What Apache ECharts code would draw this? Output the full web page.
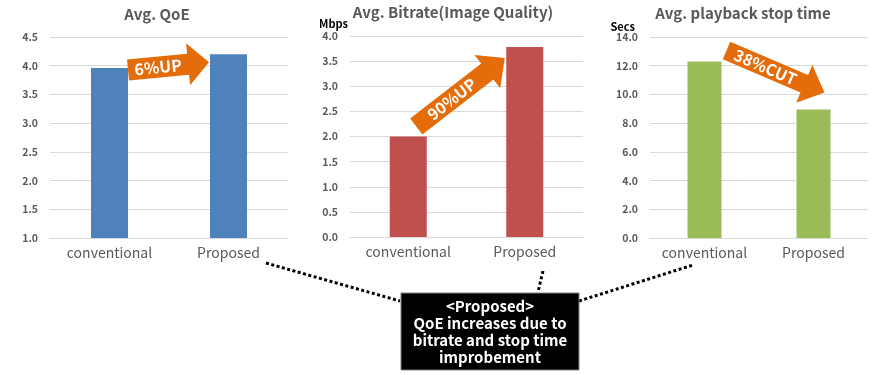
<!DOCTYPE html>
<html><head><meta charset="utf-8">
<script src="https://cdn.jsdelivr.net/npm/echarts@6/dist/echarts.min.js"></script>
<style>html,body{margin:0;padding:0;background:#fff}#c{width:890px;height:375px}</style>
</head><body><div id="c"></div>
<script>
const categories = ['conventional', 'Proposed'];
const qoeValues = [3.96, 4.2];
const bitrateValues = [2.0, 3.78];
const stopTimeValues = [12.3, 8.95];
const titles = ['Avg. QoE', 'Avg. Bitrate(Image Quality)', 'Avg. playback stop time'];
const unitNames = ['', 'Mbps', 'Secs'];
const arrowLabels = ['6%UP', '90%UP', '38%CUT'];
const boxLines = ['<Proposed>', 'QoE increases due to', 'bitrate and stop time', 'improbement'];

const FONT = '"Noto Sans CJK JP","Noto Sans",sans-serif';
const GRAY = '#595959';
const colors = ['#4F81BD', '#C0504D', '#9BBB59'];

const grids = [
  {left: 50, width: 238, top: 37, height: 201},
  {left: 350, width: 233, top: 36, height: 201},
  {left: 650, width: 218, top: 37, height: 201}
];
const yCfg = [
  {min: 1, max: 4.5, interval: 0.5, dec: 1, margin: 12},
  {min: 0, max: 4, interval: 0.5, dec: 1, margin: 12},
  {min: 0, max: 14, interval: 2, dec: 1, margin: 12}
];
const datas = [qoeValues, bitrateValues, stopTimeValues];

const chart = echarts.init(document.getElementById('c'), null, {renderer: 'canvas'});
const option = {
  animation: false,
  grid: grids,
  xAxis: grids.map((g, i) => ({
    type: 'category', gridIndex: i, data: categories,
    axisLine: {lineStyle: {color: '#D9D9D9'}},
    axisTick: {show: false},
    axisLabel: {color: GRAY, fontSize: 14, fontFamily: FONT, margin: 8, interval: 0, hideOverlap: false}
  })),
  yAxis: yCfg.map((c, i) => ({
    type: 'value', gridIndex: i, min: c.min, max: c.max, interval: c.interval,
    name: unitNames[i], nameLocation: 'end', nameGap: i === 1 ? 7 : 4,
    nameTextStyle: {align: 'right', color: '#000', fontWeight: 'bold', fontSize: 11, fontFamily: FONT,
      padding: [0, i === 1 ? 2 : 15, 0, 0]},
    axisLine: {show: false}, axisTick: {show: false},
    splitLine: {lineStyle: {color: '#D9D9D9', width: 1}},
    axisLabel: {color: GRAY, fontSize: 10.5, fontWeight: 'bold', fontFamily: FONT, margin: c.margin,
      formatter: v => v.toFixed(c.dec)}
  })),
  series: datas.map((d, i) => ({
    type: 'bar', xAxisIndex: i, yAxisIndex: i, data: d, barWidth: i === 2 ? 34 : 37,
    itemStyle: {color: colors[i]}
  }))
};
chart.setOption(option);

function px(i, cat, val) {
  return chart.convertToPixel({gridIndex: i}, [cat, val]);
}
function arrow(start, end, sw, hw, hl, label, fs) {
  const dx = end[0] - start[0], dy = end[1] - start[1];
  const L = Math.hypot(dx, dy);
  const ux = dx / L, uy = dy / L, nx = -uy, ny = ux;
  const bx = end[0] - ux * hl, by = end[1] - uy * hl;
  const pts = [
    [start[0] + nx * sw / 2, start[1] + ny * sw / 2],
    [bx + nx * sw / 2, by + ny * sw / 2],
    [bx + nx * hw / 2, by + ny * hw / 2],
    end,
    [bx - nx * hw / 2, by - ny * hw / 2],
    [bx - nx * sw / 2, by - ny * sw / 2],
    [start[0] - nx * sw / 2, start[1] - ny * sw / 2]
  ];
  const ang = Math.atan2(dy, dx);
  const mx = (start[0] + bx) / 2, my = (start[1] + by) / 2;
  return [
    {type: 'polygon', shape: {points: pts}, style: {fill: '#E46C0A'}, z: 10},
    {type: 'text', x: mx, y: my, rotation: -ang, z: 11,
      style: {text: label, fill: '#fff', font: 'bold ' + fs + 'px ' + FONT, align: 'center', verticalAlign: 'middle'}}
  ];
}

const hb = [18.5, 18.5, 17];
const g = [];
const titleY = [14, 12, 13];
titles.forEach((t, i) => g.push({type: 'text', x: [157, 453, 743][i], y: titleY[i],
  style: {text: t, fill: GRAY, font: 'bold 15px ' + FONT, align: 'center', verticalAlign: 'middle'}}));

{
  const a = px(0, 0, qoeValues[0]), b = px(0, 1, qoeValues[1]);
  g.push(...arrow([a[0] + hb[0], a[1] + 2], [b[0] - hb[0] - 1, b[1] + 8], 21, 42, 21, arrowLabels[0], 16));
}
{
  const a = px(1, 0, bitrateValues[0]), b = px(1, 1, bitrateValues[1]);
  g.push(...arrow([a[0] + 8, a[1] - 10], [b[0] - 20, b[1] + 11], 20, 42, 22, arrowLabels[1], 16));
}
{
  const a = px(2, 0, stopTimeValues[0]), b = px(2, 1, stopTimeValues[1]);
  g.push(...arrow([a[0] + 22, a[1] - 11], [b[0] + 11, b[1] - 17], 19, 41, 22, arrowLabels[2], 16));
}

const dotStyle = {stroke: '#000', lineWidth: 3, lineDash: [3, 2.5]};
g.push({type: 'line', shape: {x1: 266, y1: 263, x2: 400, y2: 301}, style: dotStyle});
g.push({type: 'line', shape: {x1: 543, y1: 271, x2: 538, y2: 292}, style: dotStyle});
g.push({type: 'line', shape: {x1: 579, y1: 301, x2: 693, y2: 265}, style: dotStyle});

g.push({type: 'rect', shape: {x: 401, y: 293, width: 178, height: 77}, style: {fill: '#000', stroke: '#7f7f7f', lineWidth: 1}, z: 5});
boxLines.forEach((t, k) => g.push({type: 'text', x: 490, y: 306 + k * 17, z: 6,
  style: {text: t, fill: '#fff', font: 'bold 15px ' + FONT, align: 'center', verticalAlign: 'middle'}}));

chart.setOption({graphic: g});
</script></body></html>
